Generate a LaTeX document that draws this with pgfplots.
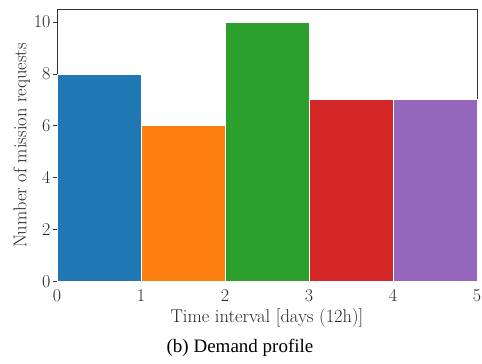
\documentclass[border=0pt]{standalone}
\usepackage{fontspec}
\usepackage{pgfplots}
\pgfplotsset{compat=1.18}
\newfontfamily\capfont{Liberation Serif}
\definecolor{tabblue}{HTML}{1F77B4}
\definecolor{taborange}{HTML}{FF7F0E}
\definecolor{tabgreen}{HTML}{2CA02C}
\definecolor{tabred}{HTML}{D62728}
\definecolor{tabpurple}{HTML}{9467BD}
\begin{document}
\begin{tikzpicture}
\path[use as bounding box] (-57pt,-82.3pt) rectangle (425pt,281.7pt);
\begin{axis}[
  scale only axis,
  width=420pt, height=272.7pt,
  xmin=0, xmax=5, ymin=0, ymax=10.5,
  xtick={0,1,2,3,4,5},
  ytick={0,2,4,6,8,10},
  /pgf/number format/assume math mode=true,
  tick label style={font=\fontsize{18}{21}\selectfont, text=black!85},
  label style={font=\fontsize{18.5}{22}\selectfont, text=black!85},
  axis line style={black!80, line width=0.9pt},
  major x tick style={draw=none},
  major y tick style={black!80, line width=0.8pt},
  tick align=outside,
  major tick length=4pt,
  xtick pos=bottom, ytick pos=left,
  xticklabel style={yshift=0pt},
  yticklabel style={xshift=1pt},
  xlabel={Time interval [days (12h)]},
  ylabel={Number of mission requests},
  xlabel style={yshift=0pt},
  ylabel style={yshift=-3pt},
  clip=false,
]
\addplot[ybar interval, fill=tabblue, draw=white, line width=0.8pt] coordinates {(0,8) (1,8)};
\addplot[ybar interval, fill=taborange, draw=white, line width=0.8pt] coordinates {(1,6) (2,6)};
\addplot[ybar interval, fill=tabgreen, draw=white, line width=0.8pt] coordinates {(2,10) (3,10)};
\addplot[ybar interval, fill=tabred, draw=white, line width=0.8pt] coordinates {(3,7) (4,7)};
\addplot[ybar interval, fill=tabpurple, draw=white, line width=0.8pt] coordinates {(4,7) (5,7)};
\end{axis}
\node[font=\capfont\fontsize{19}{22}\selectfont, text=black] at (183pt,-66pt) {(b) Demand profile};
\end{tikzpicture}
\end{document}
